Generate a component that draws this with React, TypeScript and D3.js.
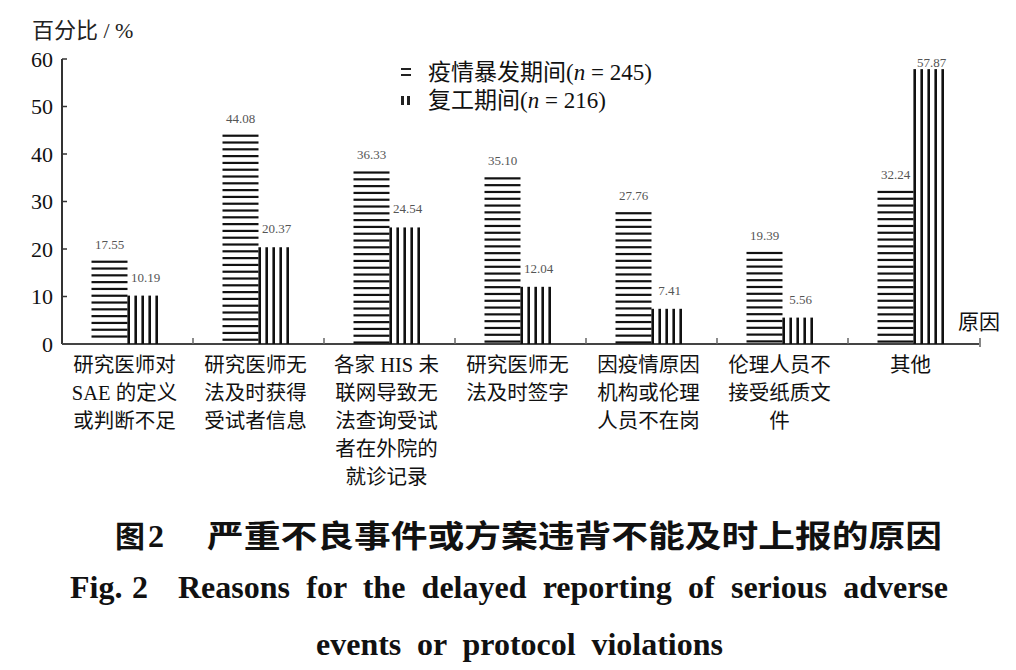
import * as d3 from "d3";
import { useEffect, useRef } from "react";

// reasons for delayed reporting (x categories, one array of lines per label)
const categories = [
  ["研究医师对", "SAE 的定义", "或判断不足"],
  ["研究医师无", "法及时获得", "受试者信息"],
  ["各家 HIS 未", "联网导致无", "法查询受试", "者在外院的", "就诊记录"],
  ["研究医师无", "法及时签字"],
  ["因疫情原因", "机构或伦理", "人员不在岗"],
  ["伦理人员不", "接受纸质文", "件"],
  ["其他"],
];
const outbreak = [17.55, 44.08, 36.33, 35.1, 27.76, 19.39, 32.24];
const resumption = [10.19, 20.37, 24.54, 12.04, 7.41, 5.56, 57.87];
const outbreakLabels = ["17.55", "44.08", "36.33", "35.10", "27.76", "19.39", "32.24"];
const resumptionLabels = ["10.19", "20.37", "24.54", "12.04", "7.41", "5.56", "57.87"];
const yTicks = [0, 10, 20, 30, 40, 50, 60];

const serif = "'Liberation Serif', 'Noto Sans CJK SC', serif";
const cjk = "'Noto Sans CJK SC', sans-serif";

// spread a text line over a given width by word spacing only
function justify(el: SVGTextElement | null, width: number) {
  if (!el) return;
  el.setAttribute("word-spacing", "0");
  const w = el.getComputedTextLength();
  const gaps = (el.textContent || "").split(" ").length - 1;
  el.setAttribute("word-spacing", String(Math.max(0, (width - w) / gaps)));
}

export default function App() {
  const line1Ref = useRef<SVGTextElement | null>(null);
  const line2Ref = useRef<SVGTextElement | null>(null);

  const x0 = 62;
  const x1 = 979;
  const yBase = 344;
  const yTop = 59;

  const x = d3
    .scaleBand<number>()
    .domain(d3.range(categories.length))
    .range([x0, x1])
    .paddingInner(0)
    .paddingOuter(0);
  const y = d3.scaleLinear().domain([0, 60]).range([yBase, yTop]);
  const barW = 36;
  const groupOff = (x.bandwidth() - barW * 2) / 2;

  useEffect(() => {
    justify(line1Ref.current, 770);
    justify(line2Ref.current, 407);
  }, []);

  return (
    <svg
      width={1016}
      height={670}
      style={{ position: "absolute", left: 0, top: 0, background: "#fff" }}
    >
      {/* y axis title */}
      <text x={32} y={38} fontFamily={serif} fontSize={22} fill="#222">
        百分比 / %
      </text>

      {/* y axis */}
      <line x1={x0} x2={x0} y1={y(60)} y2={yBase} stroke="#333" strokeWidth={2} />
      {yTicks.map((t) => (
        <g key={t}>
          <line x1={x0} x2={x0 + 5} y1={y(t)} y2={y(t)} stroke="#333" strokeWidth={1.5} />
          <text
            x={53}
            y={y(t)}
            dy="0.35em"
            textAnchor="end"
            fontFamily={serif}
            fontSize={22}
            fill="#111"
          >
            {t}
          </text>
        </g>
      ))}

      {/* x axis */}
      <line x1={x0} x2={x1 + 2} y1={yBase} y2={yBase} stroke="#444" strokeWidth={2} />
      {d3.range(1, categories.length).map((i) => (
        <line
          key={i}
          x1={x(i)!}
          x2={x(i)!}
          y1={yBase}
          y2={yBase - 6}
          stroke="#666"
          strokeWidth={1.5}
        />
      ))}
      <line x1={x1 + 1} x2={x1 + 1} y1={yBase - 6} y2={yBase + 3} stroke="#888" strokeWidth={2} />
      <text x={958} y={322} dy="0.35em" fontFamily={cjk} fontSize={21} fill="#111">
        原因
      </text>

      {/* bars */}
      {categories.map((_, i) => {
        const bx1 = x(i)! + groupOff;
        const bx2 = bx1 + barW;
        const top1 = y(outbreak[i]);
        const top2 = y(resumption[i]);
        const hLines = d3.range(top1 + 1, yBase - 1, 6.8);
        const vLines = d3.range(bx2 + 1.2, bx2 + barW, 7);
        return (
          <g key={i}>
            {hLines.map((yy, k) => (
              <rect key={k} x={bx1} y={yy - 1} width={barW} height={2.2} fill="#111" />
            ))}
            {vLines.map((xx, k) => (
              <rect key={k} x={xx - 1.3} y={top2} width={2.6} height={yBase - top2} fill="#111" />
            ))}
            <text
              x={bx1 + barW / 2}
              y={top1 - 12}
              textAnchor="middle"
              fontFamily={serif}
              fontSize={13}
              fill="#555"
            >
              {outbreakLabels[i]}
            </text>
            <text
              x={bx2 + barW / 2}
              y={i === 6 ? top2 - 2 : top2 - 14}
              textAnchor="middle"
              fontFamily={serif}
              fontSize={13}
              fill="#555"
            >
              {resumptionLabels[i]}
            </text>
          </g>
        );
      })}

      {/* category labels */}
      {categories.map((lines, i) => (
        <text
          key={i}
          x={x(i)! + x.bandwidth() / 2 - 3}
          textAnchor="middle"
          fontFamily={serif}
          fontSize={20.5}
          fill="#111"
        >
          {lines.map((l, k) => (
            <tspan key={k} x={x(i)! + x.bandwidth() / 2 - 3} y={372 + k * 28}>
              {l}
            </tspan>
          ))}
        </text>
      ))}

      {/* legend */}
      <g>
        <rect x={401} y={68} width={10} height={2} fill="#222" />
        <rect x={401} y={74} width={10} height={2} fill="#222" />
        <text x={428} y={72} dy="0.35em" fontFamily={serif} fontSize={23} fill="#111">
          疫情暴发期间(<tspan fontStyle="italic">n</tspan> = 245)
        </text>
        <rect x={401} y={96} width={3} height={9} fill="#222" />
        <rect x={407} y={96} width={3} height={9} fill="#222" />
        <text x={428} y={100} dy="0.35em" fontFamily={serif} fontSize={23} fill="#111">
          复工期间(<tspan fontStyle="italic">n</tspan> = 216)
        </text>
      </g>

      {/* captions */}
      <text x={115} y={547} fontFamily={cjk} fontSize={30} fontWeight="bold" fill="#111">
        图
      </text>
      <text x={148} y={547} fontFamily={serif} fontSize={32} fontWeight="bold" fill="#111">
        2
      </text>
      <text
        x={207}
        y={547}
        fontFamily={cjk}
        fontSize={31}
        fontWeight="bold"
        fill="#111"
        textLength={735}
        lengthAdjust="spacingAndGlyphs"
      >
        严重不良事件或方案违背不能及时上报的原因
      </text>
      <text x={70} y={598} fontFamily={serif} fontSize={32} fontWeight="bold" fill="#111">
        Fig.
      </text>
      <text x={132} y={598} fontFamily={serif} fontSize={32} fontWeight="bold" fill="#111">
        2
      </text>
      <text
        ref={line1Ref}
        x={178}
        y={598}
        fontFamily={serif}
        fontSize={32}
        fontWeight="bold"
        fill="#111"
      >
        Reasons for the delayed reporting of serious adverse
      </text>
      <text
        ref={line2Ref}
        x={316}
        y={655}
        fontFamily={serif}
        fontSize={32}
        fontWeight="bold"
        fill="#111"
      >
        events or protocol violations
      </text>
    </svg>
  );
}
